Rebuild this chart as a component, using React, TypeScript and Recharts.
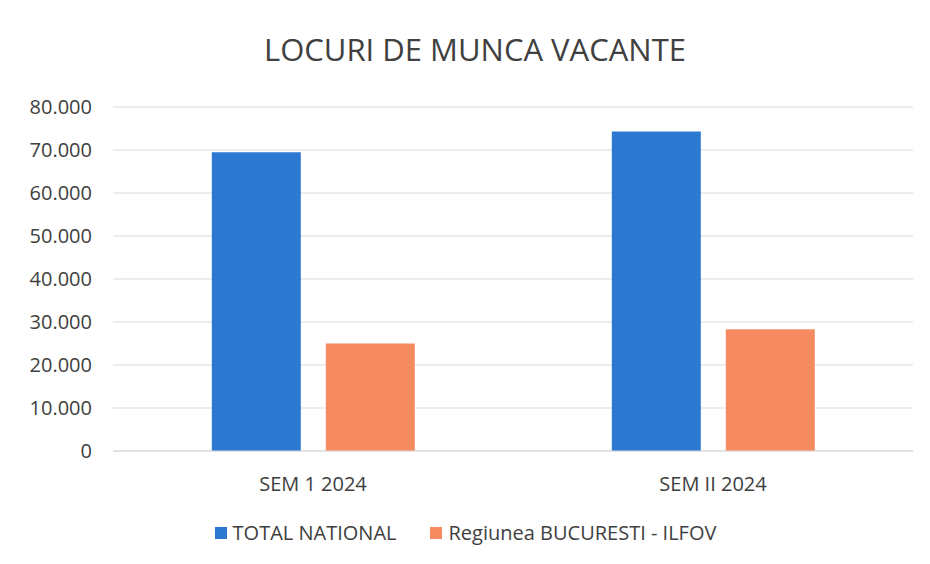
import { BarChart, Bar, XAxis, YAxis, CartesianGrid, Legend } from 'recharts'

const categories = ['SEM 1 2024', 'SEM II 2024']
const totalNational = [69500, 74300]
const bucurestiIlfov = [25000, 28300]
const yTicks = [0, 10000, 20000, 30000, 40000, 50000, 60000, 70000, 80000]

const series = [
  { key: 'TOTAL NATIONAL', color: '#2D78D0' },
  { key: 'Regiunea BUCURESTI - ILFOV', color: '#F68A60' }
]

const data = categories.map((name, i) => ({
  name,
  'TOTAL NATIONAL': totalNational[i],
  'Regiunea BUCURESTI - ILFOV': bucurestiIlfov[i]
}))

const font = '"Open Sans", sans-serif'
const textColor = '#404040'

const formatThousands = (v: number) => (v === 0 ? '0' : v.toLocaleString('de-DE'))

function LegendContent() {
  return (
    <div
      style={{
        display: 'flex',
        justifyContent: 'center',
        gap: 34,
        fontFamily: font,
        fontSize: 20,
        color: textColor,
        paddingTop: 8,
        paddingLeft: 18
      }}
    >
      {series.map((s) => (
        <div key={s.key} style={{ display: 'flex', alignItems: 'center' }}>
          <span style={{ width: 12, height: 12, background: s.color, display: 'inline-block', marginRight: 6 }} />
          <span>{s.key}</span>
        </div>
      ))}
    </div>
  )
}

export default function App() {
  return (
    <div style={{ position: 'absolute', left: 0, top: 0, width: 930, height: 564, background: '#fff' }}>
      <div
        style={{
          position: 'absolute',
          top: 28,
          left: 0,
          width: 950,
          textAlign: 'center',
          fontFamily: font,
          fontSize: 31,
          color: textColor
        }}
      >
        LOCURI DE MUNCA VACANTE
      </div>
      <BarChart
        width={930}
        height={564}
        data={data}
        margin={{ top: 107, right: 17, bottom: 18, left: 0 }}
        barCategoryGap="24.7%"
        barGap={25}
      >
        <CartesianGrid vertical={false} stroke="#d9d9d9" />
        <XAxis
          dataKey="name"
          axisLine={{ stroke: '#d9d9d9' }}
          tickLine={false}
          tick={{ fill: textColor, fontSize: 20, fontFamily: font }}
          tickMargin={20}
          height={60}
        />
        <YAxis
          width={113}
          domain={[0, 80000]}
          ticks={yTicks}
          axisLine={false}
          tickLine={false}
          tickSize={0}
          tickMargin={21}
          tickFormatter={formatThousands}
          tick={{ fill: textColor, fontSize: 20, fontFamily: font }}
        />
        <Legend verticalAlign="bottom" height={35} content={<LegendContent />} />
        {series.map((s) => (
          <Bar key={s.key} dataKey={s.key} fill={s.color} isAnimationActive={false} />
        ))}
      </BarChart>
    </div>
  )
}
